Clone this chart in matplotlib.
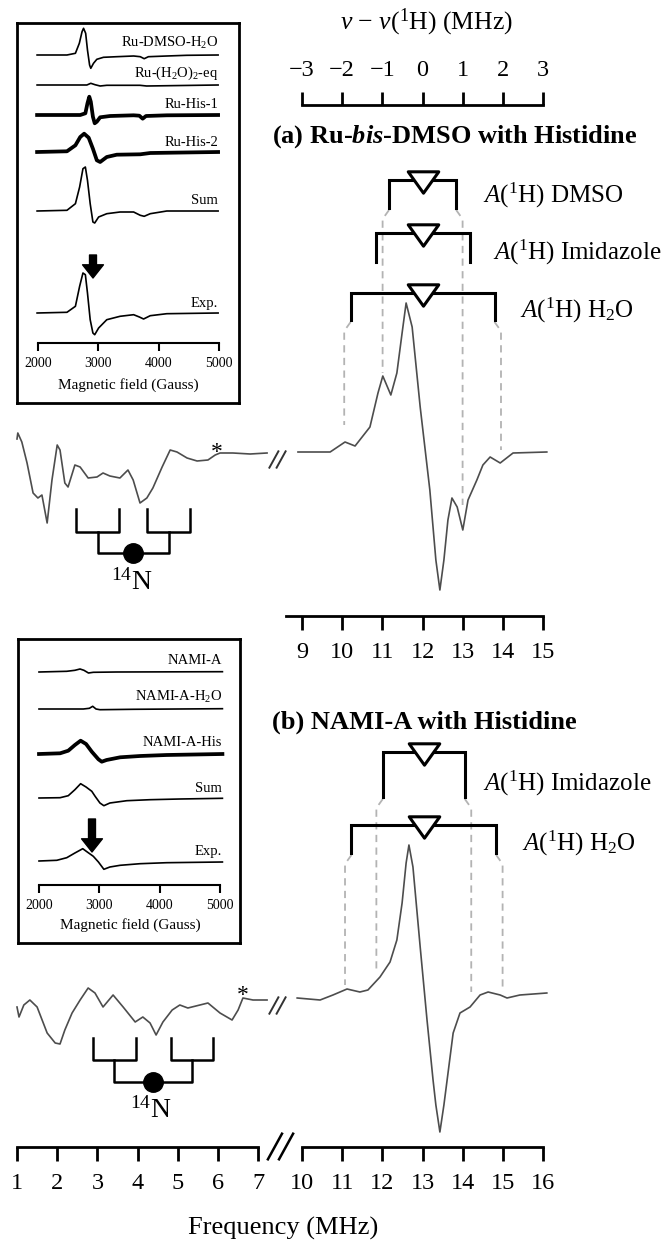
import numpy as np
import matplotlib
matplotlib.use('Agg')
import matplotlib.pyplot as plt
from matplotlib.path import Path

plt.rcParams['font.family'] = ['Liberation Serif', 'DejaVu Serif']
plt.rcParams['mathtext.fontset'] = 'custom'
plt.rcParams['mathtext.rm'] = 'Liberation Serif'
plt.rcParams['mathtext.it'] = 'Liberation Serif:italic'
plt.rcParams['mathtext.bf'] = 'Liberation Serif:bold'
plt.rcParams['mathtext.sf'] = 'Liberation Serif:bold:italic'

# ENDOR spectra, frequency in MHz, signal in arbitrary units
a_low_freq = [1.00, 1.02, 1.12, 1.25, 1.40, 1.52, 1.62, 1.75, 1.87, 2.00, 2.07, 2.19, 2.27, 2.44,
              2.57, 2.77, 2.99, 3.14, 3.31, 3.56, 3.76, 3.89, 4.06, 4.23, 4.38, 4.61, 4.81, 4.98,
              5.23, 5.48, 5.75, 5.93, 6.05, 6.37, 6.80, 7.22]
a_low_sig = [14, 20, 11, -10, -40, -45, -42, -70, -27, 8, 3, -30, -34, -12, -14, -25, -24, -20,
             -23, -25, -17, -27, -50, -45, -35, -14, 3, 1, -5, -8, -7, -2, 0, 0, -1, 0]
a_high_freq = [8.90, 9.70, 10.07, 10.32, 10.69, 10.89, 11.01, 11.21, 11.36, 11.49, 11.59, 11.74,
               11.94, 12.18, 12.33, 12.43, 12.53, 12.63, 12.73, 12.86, 13.00, 13.13, 13.35, 13.50,
               13.68, 13.93, 14.25, 15.09]
a_high_sig = [0, 0, 10, 6, 25, 59, 76, 57, 79, 119, 149, 125, 45, -38, -108, -138, -108, -68,
              -46, -55, -78, -48, -28, -13, -5, -11, -1, 0]

b_low_freq = [1.00, 1.05, 1.17, 1.32, 1.50, 1.75, 1.95, 2.07, 2.19, 2.37, 2.57, 2.77, 2.94, 3.14,
              3.39, 3.64, 3.94, 4.13, 4.31, 4.46, 4.63, 4.86, 5.05, 5.25, 5.55, 5.75, 6.05, 6.35,
              6.50, 6.62, 6.87, 7.22]
b_low_sig = [-7, -17, -5, 0, -7, -33, -43, -44, -30, -13, 0, 12, 7, -7, 5, -7, -22, -17, -23,
             -35, -22, -10, -5, -8, -5, -3, -13, -20, -10, 2, 0, 0]
b_high_freq = [9.88, 10.45, 10.77, 11.12, 11.44, 11.64, 11.94, 12.19, 12.36, 12.49, 12.59, 12.66,
               12.76, 12.94, 13.11, 13.26, 13.33, 13.43, 13.53, 13.61, 13.76, 13.93, 14.18, 14.43,
               14.63, 14.93, 15.10, 15.42, 16.09]
b_high_sig = [0, -2, 3, 9, 6, 8, 21, 36, 58, 95, 135, 153, 131, 51, -22, -82, -107, -134, -107,
              -82, -35, -15, -9, 3, 6, 3, 0, 3, 5]

# hyperfine annotations
nu_h_a = 12.0
nu_h_b = 13.03
a_proton_A = [1.67, 2.34, 3.58]
a_proton_names = ['DMSO', 'Imidazole', r'H$_2$O']
b_proton_A = [2.04, 3.60]
b_proton_names = ['Imidazole', r'H$_2$O']
n14_a = [3.89, 1.76, 1.07]   # centre, outer splitting, inner splitting
n14_b = [4.39, 1.93, 1.06]

offset_ticks = [-3, -2, -1, 0, 1, 2, 3]
freq_ticks_a = [9, 10, 11, 12, 13, 14, 15]
freq_ticks_low = [1, 2, 3, 4, 5, 6, 7]
freq_ticks_high = [10, 11, 12, 13, 14, 15, 16]
field_ticks = [2000, 3000, 4000, 5000]

# EPR insets, field in Gauss
dmso_field = [1985, 2480, 2620, 2685, 2730, 2755, 2790, 2820, 2855, 2875, 2920, 2975, 3085, 3305,
              3585, 3695, 3760, 3830, 4135, 4465, 4985]
dmso_sig = [0, 0, 1.7, 11.7, 23.3, 26.7, 21.7, 5, -10, -13.3, -8.3, -4.3, -2.3, -1.7, -1, -1.7,
            -3.7, -1.7, -1, -0.3, 0]
aqua_field = [1985, 2810, 2875, 2945, 3030, 3140, 3690, 3800, 4985]
aqua_sig = [0, 0, 1.7, 0.3, -1, -0.3, -0.3, -1, 0]
his1_field = [1985, 2700, 2785, 2820, 2850, 2875, 2910, 2940, 2975, 3030, 3195, 3585, 3680, 3735,
              3790, 4135, 4985]
his1_sig = [0, 0, 1.7, 11.7, 18.3, 13.3, -1.7, -8.3, -6.7, -2.3, -1, -0.3, -0.7, -3.7, -1, -0.3, 0]
his2_field = [1985, 2480, 2620, 2700, 2765, 2840, 2910, 2975, 3030, 3140, 3305, 3695, 3860, 4985]
his2_sig = [0, 0.7, 6.7, 15, 18.3, 14.3, 3.3, -8.3, -10, -5, -2.7, -2.3, -1, 0]
sum_a_field = [1985, 2480, 2620, 2690, 2745, 2785, 2820, 2865, 2910, 2940, 3005, 3140, 3360, 3585,
               3695, 3760, 3860, 4135, 4985]
sum_a_sig = [0, 0.7, 7.3, 24, 42.3, 44, 30.7, 7.3, -11, -12, -6, -2.7, -1, -1, -4.3, -5.3, -2.7, 0, 0]
exp_a_field = [1985, 2480, 2620, 2690, 2745, 2785, 2820, 2865, 2910, 2940, 3005, 3140, 3360, 3585,
               3680, 3750, 3860, 4135, 4985]
exp_a_sig = [0, 0.7, 6.7, 26.7, 40, 38.3, 20, -6.7, -20, -21.7, -15, -6.7, -3.3, -1.7, -4, -6,
             -2.7, -0.7, 0]

nami_field = [2000, 2460, 2595, 2680, 2745, 2820, 2900, 3285, 5040]
nami_sig = [0, 0.7, 1.7, 3, 1.7, -1, -0.3, 0, 0.3]
nami_h2o_field = [2000, 2735, 2835, 2890, 2945, 3010, 3565, 5040]
nami_h2o_sig = [0, 0, 0.7, 2.7, 0, -0.7, -0.3, 0.3]
nami_his_field = [2000, 2350, 2485, 2595, 2690, 2780, 2875, 2985, 3040, 3120, 3345, 3675, 4115, 5040]
nami_his_sig = [0, 0.7, 3.3, 9, 13.3, 10, 2.3, -5.3, -7.7, -6, -3.3, -2, -1, 0]
sum_b_field = [2000, 2350, 2485, 2595, 2690, 2780, 2875, 2930, 3010, 3075, 3175, 3455, 3840, 4335, 5040]
sum_b_sig = [0, 0.3, 2.3, 8.3, 14.3, 11, 6.7, 1.7, -5, -7.7, -5, -2.7, -1.7, -1, -0.3]
exp_b_field = [2000, 2295, 2460, 2595, 2725, 2800, 2900, 2985, 3075, 3175, 3345, 3675, 4115, 5040]
exp_b_sig = [0, 0.7, 3.3, 8, 12.3, 9, 4.7, -1, -8.3, -6, -4.3, -2.7, -1.7, -1]

inset_a_names = [r'Ru-DMSO-H$_2$O', r'Ru-(H$_2$O)$_2$-eq', 'Ru-His-1', 'Ru-His-2', 'Sum', 'Exp.']
inset_b_names = ['NAMI-A', r'NAMI-A-H$_2$O', 'NAMI-A-His', 'Sum', 'Exp.']

# ---------------------------------------------------------------- layout
W, H = 670, 1241
PX = 40.2  # pixels per MHz
SPEC = '#4d4d4d'
DASH = '#b3b3b3'
TRI = Path([(-1, 0.7), (1, 0.7), (0, -0.7), (-1, 0.7)],
           [Path.MOVETO, Path.LINETO, Path.LINETO, Path.CLOSEPOLY])
BREAK = Path([(-0.95, -1), (0.15, 1), (-0.15, -1), (0.95, 1)],
             [Path.MOVETO, Path.LINETO, Path.MOVETO, Path.LINETO])

fig = plt.figure(figsize=(W / 100, H / 100), dpi=100)


def rect(l, t, r, b):
    return [l / W, 1 - b / H, (r - l) / W, (b - t) / H]


def blank_axes(l, t, r, b):
    ax = fig.add_axes(rect(l, t, r, b))
    ax.patch.set_visible(False)
    for s in ax.spines.values():
        s.set_visible(False)
    ax.set_xticks([])
    ax.set_yticks([])
    return ax


def spectrum_axes(l, t, r, b, f_ref, x_ref, base):
    ax = blank_axes(l, t, r, b)
    ax.set_xlim(f_ref + (l - x_ref) / PX, f_ref + (r - x_ref) / PX)
    ax.set_ylim(base - b, base - t)
    return ax


def freq_axis(ax, ticks, y, lo, hi):
    sp = ax.spines['bottom']
    sp.set_visible(True)
    sp.set_position(('data', y))
    sp.set_bounds(lo, hi)
    sp.set_linewidth(2)
    ax.set_xticks(ticks)
    ax.tick_params(axis='x', direction='out', length=10, width=2, labelsize=17.5, pad=9)


def epr_inset(l, t, r, b, x2000, x5000, traces, bases, label_ys, names, bold, label_x, axis_y,
              arrow_x, arrow_y0, arrow_y1, xlabel_xy):
    frame = fig.add_axes(rect(l, t, r, b))
    frame.set_xticks([])
    frame.set_yticks([])
    for s in frame.spines.values():
        s.set_linewidth(2)
    ax = blank_axes(l, t, r, b)
    g = lambda px: 2000 + (px - x2000) * 3000 / (x5000 - x2000)
    ax.set_xlim(g(l), g(r))
    ax.set_ylim(-b, -t)
    for (field, sig), base, ly, name, thick in zip(traces, bases, label_ys, names, bold):
        ax.plot(field, np.array(sig) - base, color='k', lw=2.7 if thick else 1.2)
        ax.text(g(label_x), -ly, name, ha='right', va='center', fontsize=10.5)
    sp = ax.spines['bottom']
    sp.set_visible(True)
    sp.set_position(('data', -axis_y))
    sp.set_bounds(2000, 5000)
    sp.set_linewidth(1.5)
    ax.set_xticks(field_ticks)
    ax.tick_params(axis='x', direction='out', length=6, width=1.5, labelsize=10, pad=4)
    ax.annotate('', xy=(g(arrow_x), -arrow_y1), xytext=(g(arrow_x), -arrow_y0),
                arrowprops=dict(facecolor='k', edgecolor='k', width=5, headwidth=15,
                                headlength=9.5, shrink=0))
    fig.text(xlabel_xy[0] / W, 1 - xlabel_xy[1] / H, 'Magnetic field (Gauss)',
             ha='center', va='center', fontsize=11)


def proton_brackets(ax, base, nu_h, couplings, names, line_y, leg_y, dash_end, label_xy):
    for A, name, yl, yb, de, (lx, ly) in zip(couplings, names, line_y, leg_y, dash_end, label_xy):
        x0, x1 = nu_h - A / 2, nu_h + A / 2
        ax.plot([x0, x0, x1, x1], [base - yb, base - yl, base - yl, base - yb], color='k', lw=2.2,
                solid_joinstyle='miter', zorder=3)
        ax.plot(nu_h, base - yl - 2, marker=TRI, ms=22, mfc='w', mec='k', mew=2.2, zorder=4)
        if de is not None:
            for side, x, yend in ((-1, x0, de[0]), (1, x1, de[1])):
                xd = x + side * 0.16
                ax.plot([x, xd, xd], [base - yb - 2, base - yb - 11, base - yend], color=DASH,
                        lw=1.3, dashes=(4, 3), zorder=1)
        fig.text(lx / W, 1 - ly / H, r'$A$($^1$H) ' + name, fontsize=18, va='center')


def n14_pattern(ax, base, pattern, top, mid, bot, label_xy):
    c, outer, inner = pattern
    stems = [c - outer / 2, c + outer / 2]
    for s in stems:
        ax.plot([s - inner / 2, s - inner / 2, s + inner / 2, s + inner / 2],
                [base - top, base - mid, base - mid, base - top], color='k', lw=1.8)
    ax.plot([stems[0], stems[0], stems[1], stems[1]], [base - mid, base - bot, base - bot, base - mid],
            color='k', lw=1.8)
    ax.plot(c, base - bot, 'o', color='k', ms=14)
    fig.text(label_xy[0] / W, 1 - label_xy[1] / H, r'$^{14}$N', ha='center', va='center', fontsize=20)


# ---------------------------------------------------------------- insets
epr_inset(17, 23, 239, 403, 38, 219,
          [(dmso_field, dmso_sig), (aqua_field, aqua_sig), (his1_field, his1_sig),
           (his2_field, his2_sig), (sum_a_field, sum_a_sig), (exp_a_field, exp_a_sig)],
          [55, 85, 115, 152, 211, 313], [43, 73, 104, 142, 201, 304], inset_a_names,
          [False, False, True, True, False, False], 218, 343, 93, 255, 278, (128, 385))
epr_inset(18, 639, 240, 943, 39, 220,
          [(nami_field, nami_sig), (nami_h2o_field, nami_h2o_sig), (nami_his_field, nami_his_sig),
           (sum_b_field, sum_b_sig), (exp_b_field, exp_b_sig)],
          [672, 709, 754, 798, 861], [660, 697, 742, 789, 851], inset_b_names,
          [False, False, True, False, False], 222, 885, 92, 819, 852, (130, 925))

# ---------------------------------------------------------------- panel (a)
ax_aL = spectrum_axes(0, 405, 290, 620, 1, 17, 453)
ax_aL.plot(a_low_freq, a_low_sig, color=SPEC, lw=1.2)
ax_aL.text(1 + (217 - 17) / PX, 453 - 458, '*', fontsize=17, ha='center', va='baseline')
ax_aL.plot(1 + (277 - 17) / PX, 453 - 459, marker=BREAK, ms=13, mec='#333333', mew=1.4,
           mfc='none', clip_on=False)
n14_pattern(ax_aL, 453, n14_a, 509, 532, 553, (132, 582))

ax_aR = spectrum_axes(270, 0, 670, 700, 9, 302, 452)
ax_aR.plot(a_high_freq, a_high_sig, color=SPEC, lw=1.2, zorder=2)
freq_axis(ax_aR, freq_ticks_a, 452 - 616, 8.6, 15)
proton_brackets(ax_aR, 452, nu_h_a, a_proton_A, a_proton_names, [180, 233, 293], [208, 262, 320],
                [(373, 505), None, (425, 450)], [(483, 195), (493, 252), (520, 310)])

sec = ax_aR.secondary_xaxis((700 - 105) / 700, functions=(lambda f: f - nu_h_a, lambda d: d + nu_h_a))
sec.set_xticks(offset_ticks)
sec.spines['top'].set_bounds(-3, 3)
sec.spines['top'].set_linewidth(2)
sec.tick_params(axis='x', direction='out', length=9.5, width=2, labelsize=17.5, pad=8)
fig.text(427 / W, 1 - 22 / H, '$\\nu$ \u2212 $\\nu$($^1$H) (MHz)', ha='center', va='center',
         fontsize=18.5)
fig.text(272 / W, 1 - 137 / H, r'(a) Ru-$\mathsf{bis}$-DMSO with Histidine', ha='left',
         va='center', fontsize=19, fontweight='bold')

# ---------------------------------------------------------------- panel (b)
ax_bL = spectrum_axes(0, 950, 290, 1241, 1, 17, 1000)
ax_bL.plot(b_low_freq, b_low_sig, color=SPEC, lw=1.2)
ax_bL.text(1 + (243 - 17) / PX, 1000 - 1001, '*', fontsize=17, ha='center', va='baseline')
ax_bL.plot(1 + (277 - 17) / PX, 1000 - 1005, marker=BREAK, ms=13, mec='#333333', mew=1.4,
           mfc='none', clip_on=False)
ax_bL.plot(1 + (280 - 17) / PX, 1000 - 1146, marker=BREAK, ms=20, mec='k', mew=1.8,
           mfc='none', clip_on=False)
freq_axis(ax_bL, freq_ticks_low, 1000 - 1147, 1, 7)
n14_pattern(ax_bL, 1000, n14_b, 1038, 1060, 1082, (151, 1110))

ax_bR = spectrum_axes(290, 690, 670, 1241, 10, 302, 998)
ax_bR.plot(b_high_freq, b_high_sig, color=SPEC, lw=1.2, zorder=2)
freq_axis(ax_bR, freq_ticks_high, 998 - 1147, 10, 16)
proton_brackets(ax_bR, 998, nu_h_b, b_proton_A, b_proton_names, [752, 825], [797, 853],
                [(970, 992), (985, 992)], [(483, 783), (522, 843)])
fig.text(272 / W, 1 - 722 / H, '(b) NAMI-A with Histidine', ha='left', va='center',
         fontsize=19, fontweight='bold')

fig.text(283 / W, 1 - 1228 / H, 'Frequency (MHz)', ha='center', va='center', fontsize=19)

fig.savefig('out.png', dpi=100)
